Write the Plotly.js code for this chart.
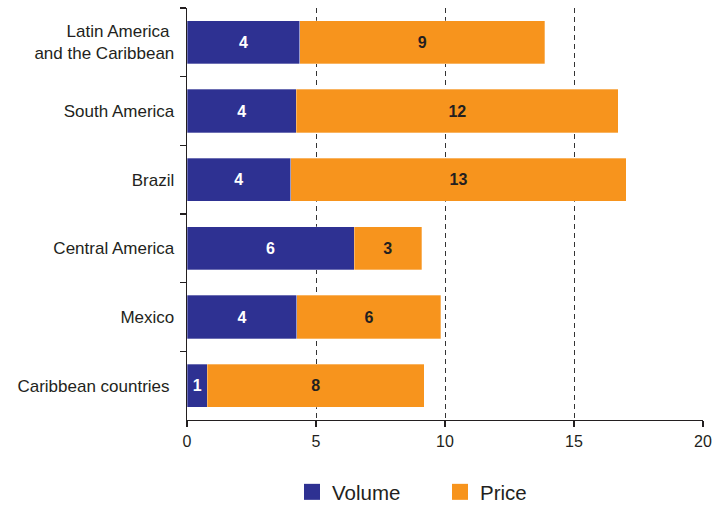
<!DOCTYPE html>
<html>
<head>
<meta charset="utf-8">
<script src="https://cdn.plot.ly/plotly-3.0.1.min.js"></script>
<style>html,body{margin:0;padding:0;background:#fff;}#chart{width:712px;height:505px;}</style>
</head>
<body>
<div id="chart"></div>
<script>
const categories = ["Latin America\u00a0<br>and the Caribbean", "South America", "Brazil", "Central America", "Mexico", "Caribbean countries\u00a0"];
const volume = [4.37, 4.24, 4.02, 6.48, 4.26, 0.79];
const price = [9.49, 12.48, 13.00, 2.61, 5.58, 8.40];
const volumeLabels = ["4", "4", "4", "6", "4", "1"];
const priceLabels = ["9", "12", "13", "3", "6", "8"];
const seriesNames = ["Volume", "Price"];
const seriesColors = ["#2e3192", "#f7941d"];
const xTicks = [0, 5, 10, 15, 20];

const font = "Liberation Sans, Arial, sans-serif";

function barTrace(name, values, labels, color, textColor) {
  return {
    type: "bar", orientation: "h", name: name, showlegend: false,
    y: categories, x: values, text: labels,
    textposition: "inside", insidetextanchor: "middle", textangle: 0,
    constraintext: "none", cliponaxis: false,
    textfont: {family: font, size: 16, color: textColor, weight: "bold"},
    marker: {color: color, line: {color: "rgba(255,255,255,0.5)", width: 0.6}},
    hoverinfo: "x+y"
  };
}
function legendTrace(name, color) {
  return {
    type: "scatter", mode: "markers", name: name, showlegend: true,
    x: [null], y: [null],
    marker: {symbol: "square", size: 16, color: color, line: {width: 0}}
  };
}

const traces = [
  barTrace(seriesNames[0], volume, volumeLabels, seriesColors[0], "#ffffff"),
  barTrace(seriesNames[1], price, priceLabels, seriesColors[1], "#231f20"),
  legendTrace(seriesNames[0], seriesColors[0]),
  legendTrace(seriesNames[1], seriesColors[1])
];

const layout = {
  width: 712, height: 505,
  margin: {l: 187, r: 9, t: 8, b: 85, autoexpand: false},
  barmode: "stack",
  bargap: 0.37,
  paper_bgcolor: "#fff", plot_bgcolor: "#fff",
  font: {family: font, size: 16, color: "#231f20"},
  showlegend: true,
  legend: {
    orientation: "h", x: 0.2035, xanchor: "left", y: -0.1748, yanchor: "middle",
    font: {family: font, size: 20.5, color: "#231f20"},
    entrywidth: 103, entrywidthmode: "pixels", traceorder: "normal",
    itemsizing: "trace"
  },
  xaxis: {
    range: [0, 20], tickvals: xTicks, ticktext: xTicks.map(String),
    showline: true, linecolor: "#231f20", linewidth: 1.3,
    ticks: "outside", ticklen: 6, tickcolor: "#231f20", tickwidth: 1.3,
    showgrid: true, gridcolor: "#333", griddash: "5px,4px", gridwidth: 1,
    zeroline: false,
    tickfont: {family: font, size: 16, color: "#231f20"}
  },
  yaxis: {
    type: "category", categoryorder: "array", categoryarray: categories,
    autorange: "reversed",
    showline: true, linecolor: "#231f20", linewidth: 1.3,
    ticks: "outside", tickson: "boundaries", ticklen: 6, tickcolor: "#231f20", tickwidth: 1.3,
    showgrid: false, zeroline: false,
    ticklabelstandoff: 8,
    tickfont: {family: font, size: 17, color: "#231f20"}
  }
};

Plotly.newPlot("chart", traces, layout, {displayModeBar: false, staticPlot: true});
</script>
</body>
</html>
